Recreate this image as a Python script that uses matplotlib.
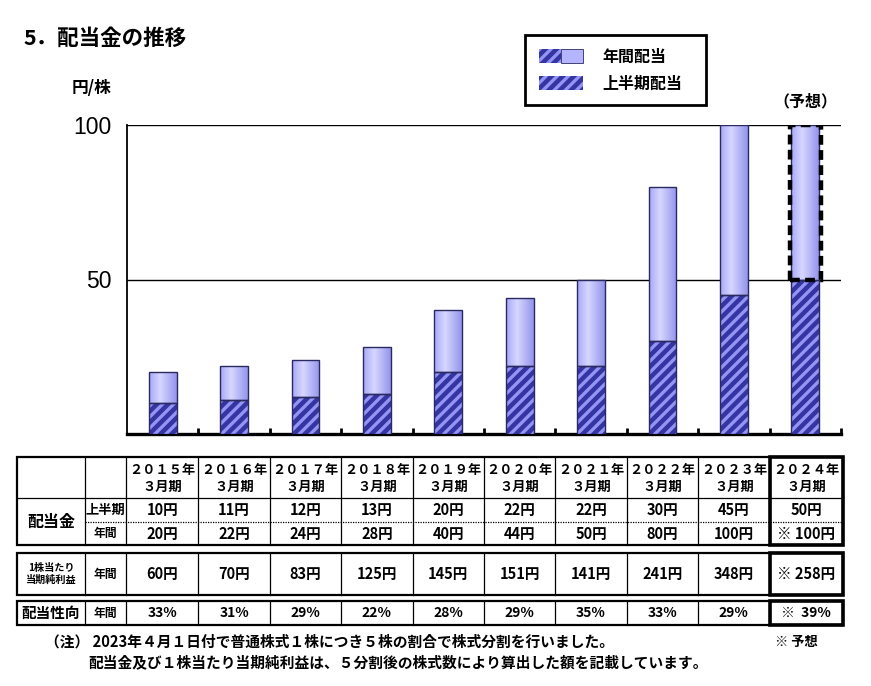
import numpy as np
import matplotlib as mpl
mpl.use('Agg')
import matplotlib.pyplot as plt
from matplotlib.patches import Patch, Rectangle
from matplotlib.legend_handler import HandlerTuple

plt.rcParams['font.family'] = ['Noto Sans CJK JP', 'DejaVu Sans']
plt.rcParams['hatch.linewidth'] = 2.4

# data
years = [2015, 2016, 2017, 2018, 2019, 2020, 2021, 2022, 2023, 2024]
half = [10, 11, 12, 13, 20, 22, 22, 30, 45, 50]
annual = [20, 22, 24, 28, 40, 44, 50, 80, 100, 100]
eps = [60, 70, 83, 125, 145, 151, 141, 241, 348, 258]
payout = [33, 31, 29, 22, 28, 29, 35, 33, 29, 39]
forecast = [False] * 9 + [True]

dark = '#3434a2'
stripe = '#9494f4'
light = '#b4b4ff'
outline = '#2a2a60'

W, H = 871, 686
fig = plt.figure(figsize=(W / 100, H / 100), dpi=100)

# chart area (pixel bounds)
ax_l, ax_r, ax_t, ax_b = 127, 841, 125, 434
ax = fig.add_axes([ax_l / W, 1 - ax_b / H, (ax_r - ax_l) / W, (ax_b - ax_t) / H])

x = np.arange(len(years))
upper = np.array(annual) - np.array(half)
bw = 0.39

# lower (hatched) part
ax.bar(x, half, bw, color=dark, edgecolor=stripe, hatch='///', lw=0, zorder=3)
ax.bar(x, half, bw, fill=False, edgecolor=outline, lw=1, zorder=4)

# upper part with horizontal gradient
up = ax.bar(x, upper, bw, bottom=half, color=light, lw=0, zorder=3)
grad_pos = np.linspace(0, 1, 64)
c_edge = np.array([0.66, 0.66, 0.98])
c_mid = np.array([0.84, 0.84, 1.0])
c_right = np.array([0.58, 0.58, 0.93])
cols = []
for p in grad_pos:
    if p < 0.4:
        t = p / 0.4
        cols.append(c_edge * (1 - t) + c_mid * t)
    else:
        t = (p - 0.4) / 0.6
        cols.append(c_mid * (1 - t) + c_right * t)
grad = np.array(cols)[None, :, :]
for r in up.patches:
    x0, y0 = r.get_x(), r.get_y()
    im = ax.imshow(grad, extent=[x0, x0 + r.get_width(), y0, y0 + r.get_height()],
                   aspect='auto', zorder=3, interpolation='bilinear')
    im.set_clip_path(r)
ax.bar(x, upper, bw, bottom=half, fill=False, edgecolor=outline, lw=1, zorder=4)

# dashed frame on forecast annual part
fx = [xi for xi, f in zip(x, forecast) if f]
fh = [h for h, f in zip(half, forecast) if f]
fu = [u for u, f in zip(upper, forecast) if f]
ax.bar(fx, fu, bw + 0.04, bottom=fh, fill=False, edgecolor='black', lw=3.2,
       linestyle=(0, (2.2, 1.2)), zorder=5)

ax.set_xlim(-0.5, len(years) - 0.5)
ax.set_ylim(0, 100)
ax.set_yticks([50, 100])
ax.set_yticklabels(['50', '100'], fontsize=16.5, family='Liberation Sans')
ax.tick_params(axis='y', length=0, pad=11)
ax.set_xticks([])
ax.set_xticks(np.arange(len(years)) + 0.5, minor=True)
ax.tick_params(axis='x', which='minor', direction='in', length=4, width=2, color='black')
for yv in [50, 100]:
    ax.axhline(yv, color='black', lw=1, zorder=2)
ax.spines['top'].set_visible(False)
ax.spines['right'].set_visible(False)
ax.spines['left'].set_linewidth(1.3)
ax.spines['bottom'].set_linewidth(2.4)
ax.set_facecolor('none')

# legend
h_half = Patch(facecolor=dark, edgecolor=stripe, hatch='///', lw=0)
h_up = Patch(facecolor=light, edgecolor=outline, lw=0.6)
leg = fig.legend([(h_half, h_up), h_half], ['年間配当', '上半期配当'],
                 handler_map={tuple: HandlerTuple(ndivide=None, pad=0)},
                 loc='upper left', bbox_to_anchor=(525 / W, 1 - 106 / H, 181 / W, 71 / H),
                 mode='expand', borderaxespad=0, fancybox=False, edgecolor='black',
                 handlelength=2.8, handleheight=1.0, handletextpad=1.2,
                 labelspacing=0.7, borderpad=0.85,
                 prop={'weight': 'bold', 'size': 11.5})
leg.get_frame().set_linewidth(2)
leg.get_frame().set_alpha(1)

# overlay for texts and table
ov = fig.add_axes([0, 0, 1, 1])
ov.set_xlim(0, W)
ov.set_ylim(H, 0)
ov.axis('off')
ov.set_zorder(-1)

ov.text(23, 38, '5．配当金の推移', fontsize=15.5, weight='bold', va='center', ha='left')
ov.text(72, 88, '円/株', fontsize=12, weight='bold', va='center', ha='left')
ov.text(805, 101, '（予想）', fontsize=11.5, weight='bold', va='center', ha='center')

# table
fw = str.maketrans('0123456789', '０１２３４５６７８９')
slot = (ax_r - ax_l) / len(years)
col_edges = [17, 85, 126] + [ax_l + slot * (i + 1) for i in range(len(years))]
col_edges[-1] = 843
cx = [(col_edges[i + 2] + col_edges[i + 3]) / 2 for i in range(len(years))]
tl, tr = col_edges[0], col_edges[-1]
fc_l = col_edges[-2]

thin = 0.9
thick = 1.6

# section 1: header + dividend rows
s1_t, s1_hb, s1_mid, s1_b = 457, 498, 522, 545
ov.add_patch(Rectangle((tl, s1_t), tr - tl, s1_b - s1_t, fill=False, lw=thick, ec='black'))
ov.plot([tl, tr], [s1_hb, s1_hb], color='black', lw=thin)
ov.plot([col_edges[1], tr], [s1_mid, s1_mid], color='black', lw=0.9, linestyle=(0, (1, 1)))
for ce in col_edges[1:-1]:
    ov.plot([ce, ce], [s1_t, s1_b], color='black', lw=thin)

# section 2: eps
s2_t, s2_b = 553, 595
ov.add_patch(Rectangle((tl, s2_t), tr - tl, s2_b - s2_t, fill=False, lw=thick, ec='black'))
for ce in col_edges[1:-1]:
    ov.plot([ce, ce], [s2_t, s2_b], color='black', lw=thin)

# section 3: payout ratio
s3_t, s3_b = 601, 625
ov.add_patch(Rectangle((tl, s3_t), tr - tl, s3_b - s3_t, fill=False, lw=thick, ec='black'))
for ce in col_edges[1:-1]:
    ov.plot([ce, ce], [s3_t, s3_b], color='black', lw=thin)

# forecast column frames
for t, b in [(s1_t, s1_b), (s2_t, s2_b), (s3_t, s3_b)]:
    ov.add_patch(Rectangle((fc_l, t), tr - fc_l, b - t, fill=False, lw=2.6, ec='black', zorder=5))

# row labels
c0 = (col_edges[0] + col_edges[1]) / 2
c1 = (col_edges[1] + col_edges[2]) / 2
ov.text(c0, (s1_hb + s1_b) / 2, '配当金', fontsize=11.5, weight='bold', ha='center', va='center')
ov.text(c1, (s1_hb + s1_mid) / 2, '上半期', fontsize=9.5, weight='bold', ha='center', va='center')
ov.text(c1, (s1_mid + s1_b) / 2, '年間', fontsize=8.5, weight='bold', ha='center', va='center')
ov.text(c0, (s2_t + s2_b) / 2, '1株当たり\n当期純利益', fontsize=7.3, weight='bold',
        ha='center', va='center', linespacing=1.3)
ov.text(c1, (s2_t + s2_b) / 2, '年間', fontsize=8.5, weight='bold', ha='center', va='center')
ov.text(c0, (s3_t + s3_b) / 2, '配当性向', fontsize=10.5, weight='bold', ha='center', va='center')
ov.text(c1, (s3_t + s3_b) / 2, '年間', fontsize=8.5, weight='bold', ha='center', va='center')

for i, yr in enumerate(years):
    ov.text(cx[i], 470, str(yr).translate(fw) + '年', fontsize=9.5, weight='bold',
            ha='center', va='center')
    ov.text(cx[i], 487, '３月期', fontsize=9.5, weight='bold', ha='center', va='center')
    mark = '※ ' if forecast[i] else ''
    ov.text(cx[i], (s1_hb + s1_mid) / 2, f'{half[i]}円', fontsize=10.5, weight='bold',
            ha='center', va='center')
    ov.text(cx[i], (s1_mid + s1_b) / 2, f'{mark}{annual[i]}円', fontsize=10.5, weight='bold',
            ha='center', va='center')
    ov.text(cx[i], (s2_t + s2_b) / 2, f'{mark}{eps[i]}円', fontsize=10.5, weight='bold',
            ha='center', va='center')
    ov.text(cx[i], (s3_t + s3_b) / 2, f'{mark} {payout[i]}%' if mark else f'{payout[i]}%',
            fontsize=10, weight='bold', ha='center', va='center')

# notes
ov.text(45, 642, '（注） 2023年４月１日付で普通株式１株につき５株の割合で株式分割を行いました。',
        fontsize=10.6, weight='bold', ha='left', va='center')
ov.text(88, 662, '配当金及び１株当たり当期純利益は、５分割後の株式数により算出した額を記載しています。',
        fontsize=10.6, weight='bold', ha='left', va='center')
ov.text(775, 642, '※ 予想', fontsize=9.5, weight='bold', ha='left', va='center')

fig.savefig('out.png', dpi=100)
